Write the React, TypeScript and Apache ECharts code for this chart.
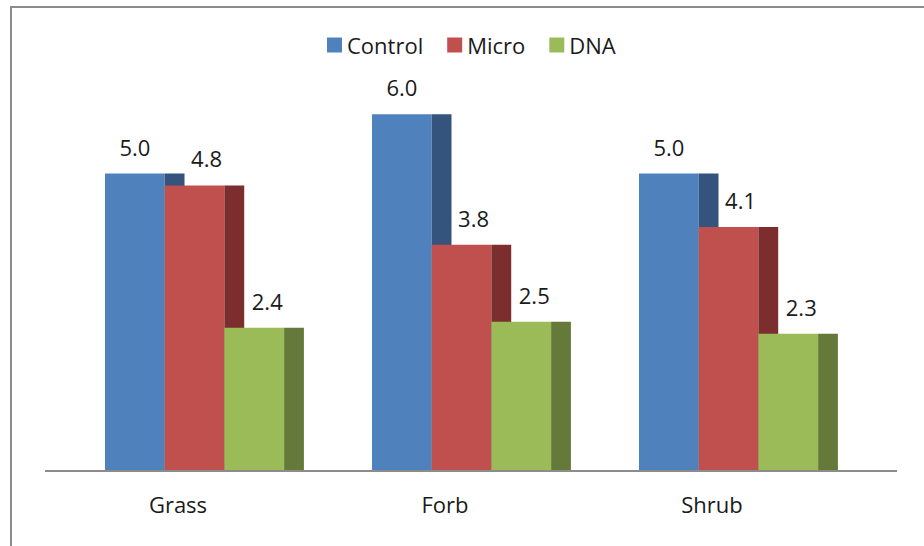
import React, { useEffect, useRef } from "react";
import * as echarts from "echarts";

// Plant groups and the three treatments
const categories = ["Grass", "Forb", "Shrub"];
const controlValues = [5.0, 6.0, 5.0];
const microValues = [4.8, 3.8, 4.1];
const dnaValues = [2.4, 2.5, 2.3];

const seriesNames = ["Control", "Micro", "DNA"];
const frontColors = ["#4F81BD", "#C0504D", "#9BBB59"];
const sideColors = ["#34547E", "#7B2E2D", "#657A39"];
// Horizontal nudge of each value label relative to its bar's front face
const labelShift = [0, 12, 13];

const FONT = "'Open Sans', 'Noto Sans', sans-serif";

function makeRenderItem(idx: number) {
  return (params: any, api: any) => {
    const cat = api.value(0);
    const val = api.value(1);
    const top = api.coord([cat, val]);
    const base = api.coord([cat, 0]);
    const band = api.size([1, 0])[0];
    const fw = band * 0.2236;
    const sw = band * 0.0742;
    const x0 = top[0] - band * 0.2734 + idx * fw;
    const h = base[1] - top[1];
    return {
      type: "group",
      children: [
        {
          type: "rect",
          shape: { x: x0, y: top[1], width: fw, height: h },
          style: { fill: frontColors[idx] },
        },
        {
          type: "rect",
          shape: { x: x0 + fw, y: top[1], width: sw, height: h },
          style: { fill: sideColors[idx] },
        },
        {
          type: "text",
          x: x0 + fw / 2 + labelShift[idx],
          y: top[1] - 27,
          style: {
            text: val.toFixed(1),
            fill: "#1a1a1a",
            font: `22px ${FONT}`,
            align: "center",
            verticalAlign: "middle",
          },
        },
      ],
    };
  };
}

export default function App() {
  const ref = useRef<HTMLDivElement>(null);

  useEffect(() => {
    if (!ref.current) return;
    const chart = echarts.init(ref.current, null, { renderer: "svg" });
    const valueSets = [controlValues, microValues, dnaValues];
    chart.setOption({
      animation: false,
      backgroundColor: "#ffffff",
      textStyle: { fontFamily: FONT },
      legend: {
        left: 322,
        top: 29,
        icon: "rect",
        itemWidth: 15,
        itemHeight: 15,
        itemGap: 24,
        textStyle: { fontSize: 22, color: "#1a1a1a", fontFamily: FONT },
        data: seriesNames.map((n, i) => ({ name: n, itemStyle: { color: frontColors[i] } })),
      },
      grid: { left: 44.5, right: 78.5, top: 55, bottom: 76 },
      xAxis: {
        type: "category",
        data: categories,
        axisLine: { show: false },
        axisTick: { show: false },
        axisLabel: { fontSize: 22, color: "#1a1a1a", margin: 23, fontFamily: FONT },
      },
      yAxis: {
        type: "value",
        min: 0,
        max: 7,
        show: false,
        splitLine: { show: false },
      },
      graphic: [
        {
          type: "rect",
          shape: { x: 11, y: 7, width: 940, height: 560 },
          style: { fill: "none", stroke: "#8c8c8c", lineWidth: 2 },
          silent: true,
        },
        {
          type: "line",
          shape: { x1: 45, y1: 471, x2: 897, y2: 471 },
          style: { stroke: "#8c8c8c", lineWidth: 2 },
          z: -1,
          silent: true,
        },
      ],
      series: seriesNames.map((name, i) => ({
        type: "custom",
        name,
        itemStyle: { color: frontColors[i] },
        renderItem: makeRenderItem(i),
        encode: { x: 0, y: 1 },
        data: categories.map((_, k) => [k, valueSets[i][k]]),
      })),
    });
    return () => chart.dispose();
  }, []);

  return (
    <div
      ref={ref}
      style={{ position: "fixed", left: 0, top: 0, width: 924, height: 546 }}
    />
  );
}
